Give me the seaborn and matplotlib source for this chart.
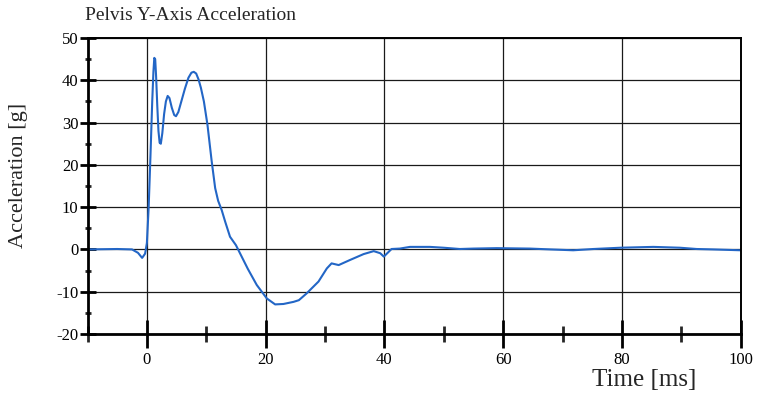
import numpy as np
import pandas as pd
import matplotlib
matplotlib.use("Agg")
import matplotlib.pyplot as plt
import seaborn as sns
from matplotlib.ticker import MultipleLocator

# ---- data ----
time_ms = [-10, -5, -2.5, -1.5, -0.8, -0.3, 0, 0.3, 0.6, 0.9, 1.1, 1.25, 1.4, 1.55, 1.75, 1.95,
           2.15, 2.35, 2.6, 2.9, 3.2, 3.5, 3.8, 4.2, 4.6, 4.9, 5.3, 5.8, 6.4, 7.0, 7.5, 7.9,
           8.3, 8.7, 9.1, 9.6, 10.2, 10.9, 11.5, 12.0, 12.6, 13.2, 14.0, 15.0, 16.0,
           17.0, 18.5, 20.2, 21.6, 23.0, 24.7, 25.6, 26.9, 28.9, 30.3, 31.1, 32.3,
           34.2, 36.5, 38.2, 39.3, 39.9, 41.2, 42.6, 44.3, 47.7, 50, 52.7, 55, 58.9,
           64.5, 68, 71.8, 75.2, 79.7, 85.3, 89.8, 92.6, 95.4, 100]
accel_g = [0, 0.1, 0, -0.8, -2.0, -1.0, 1.5, 10, 22, 35, 42, 45.3, 45.0, 41, 34, 28,
           25.2, 25.0, 27.5, 32, 35, 36.3, 35.8, 33.5, 31.8, 31.5, 32.5, 35, 38, 40.6, 41.8, 42.0,
           41.6, 40.2, 38.2, 35, 29.5, 21, 14.5, 11.5, 9.3, 6.5, 3.0, 1.0, -1.8,
           -4.6, -8.4, -11.6, -13.0, -12.9, -12.4, -12.0, -10.4, -7.6, -4.5, -3.3, -3.7,
           -2.5, -1.1, -0.4, -0.9, -1.7, 0.1, 0.2, 0.6, 0.6, 0.4, 0.1, 0.2, 0.3,
           0.2, 0.0, -0.2, 0.1, 0.4, 0.6, 0.4, 0.1, 0.0, -0.2]
x_ticks = [0, 20, 40, 60, 80, 100]
y_ticks = [-20, -10, 0, 10, 20, 30, 40, 50]
title = "Pelvis Y-Axis Acceleration"
x_label = "Time [ms]"
y_label = "Acceleration [g]"

df = pd.DataFrame({"t": time_ms, "a": accel_g})

sns.set_style("white")
plt.rcParams["font.family"] = ["Liberation Serif", "DejaVu Serif"]
plt.rcParams["axes.unicode_minus"] = False

fig = plt.figure(figsize=(7.57, 3.94), dpi=100)
ax = fig.add_axes([87.5 / 757, 1 - 334 / 394, (740.7 - 87.5) / 757, (334 - 38) / 394])

sns.lineplot(data=df, x="t", y="a", ax=ax, color="#2366c6", linewidth=1.5)

ax.set_xlim(-10, 100)
ax.set_ylim(-20, 50)
ax.set_xticks(x_ticks)
ax.set_yticks(y_ticks)
ax.xaxis.set_minor_locator(MultipleLocator(10))
ax.yaxis.set_minor_locator(MultipleLocator(5))

ax.grid(True, which="major", axis="both", color="#1a1a1a", linewidth=0.9)
ax.grid(False, which="minor")
ax.set_axisbelow(True)

for s in ["left", "bottom"]:
    ax.spines[s].set_linewidth(2.0)
    ax.spines[s].set_color("black")
for s in ["top", "right"]:
    ax.spines[s].set_linewidth(1.4)
    ax.spines[s].set_color("black")
    ax.spines[s].set_visible(True)

ax.tick_params(axis="x", which="major", direction="inout", length=20, width=2,
               labelsize=12, pad=3, colors="black", bottom=True, top=False)
ax.tick_params(axis="x", which="minor", direction="inout", length=11, width=2,
               bottom=True, top=False)
ax.tick_params(axis="y", which="major", direction="inout", length=11, width=2,
               labelsize=12, pad=1, colors="black", left=True, right=False)
ax.tick_params(axis="y", which="minor", direction="inout", length=5, width=2,
               left=True, right=False)

ax.set_xlabel(x_label, fontsize=18)
ax.set_ylabel(y_label, fontsize=16)
ax.xaxis.set_label_coords(0.853, -0.155)
ax.yaxis.set_label_coords(-0.106, 0.537)
ax.xaxis.label.set_verticalalignment("center")
ax.yaxis.label.set_verticalalignment("center")

fig.text(85 / 757, 1 - 16 / 394, title, fontsize=14, ha="left", va="center")

fig.savefig("out.png", dpi=100)
